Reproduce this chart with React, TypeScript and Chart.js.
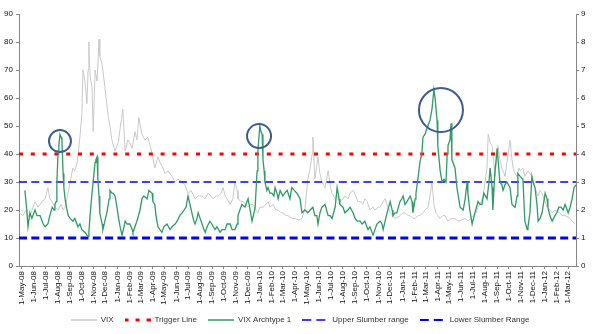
import React, { useEffect, useRef } from 'react';
import { Chart, registerables } from 'chart.js';

Chart.register(...registerables);

// x values are days counted from 1-May-2008
const vixDay = [-7,3,11,16,24,34,42,52,60,67,
  72,78,85,93,101,106,111,119,124,131,
  136,142,149,154,157,162,167,170,172,175,
  180,183,188,193,198,200,206,213,221,226,
  231,239,247,252,259,265,272,277,283,290,
  295,300,308,316,323,329,334,341,349,354,
  362,367,375,385,393,400,411,418,426,434,
  444,452,462,470,477,485,490,498,503,511,
  516,521,526,534,541,546,552,554,562,567,
  575,580,587,592,600,605,610,618,626,631,
  636,644,651,657,664,669,677,682,692,700,
  708,713,718,726,733,739,744,746,751,759,
  764,769,777,785,790,795,803,810,815,823,
  828,836,841,849,856,861,869,874,879,885,
  892,900,905,913,918,926,931,938,944,951,
  956,964,969,977,982,990,995,1002,1008,1015,
  1020,1028,1033,1041,1046,1051,1056,1061,1066,1072,
  1079,1084,1092,1100,1110,1118,1128,1136,1143,1151,
  1156,1164,1169,1177,1182,1187,1192,1195,1200,1205,
  1210,1212,1218,1220,1225,1230,1236,1238,1243,1246,
  1251,1256,1259,1264,1269,1274,1277,1284,1289,1297,
  1302,1307,1315,1323,1328,1333,1341,1346,1353,1359,
  1366,1371,1379,1384,1392,1397,1405,1410,1417];

const vix = [19,18,20,17.6,19,23,21,23,24,28,
  24,23,21,20,22,20,21,26,30,35,
  34,37,46,54,70,66,58,70,80,68,
  64,48,70,66,81,75,72,64,54,50,
  45,41,44,49,56,41,45,44,42,48,
  45,53,47,45,46,43,40,35,39,37,
  35,33,34,32,30,31,30,29,26,27,
  24,25,25,24,26,25,24,25,25,26,
  28,25,24,22,24,30,27,24,23,23,
  22,21,22,22,20,19,21,21,22,23,
  21,22,20,20,19,19,18,18,17,17,
  16.5,16.5,17,21,31,35,40,46,31,39,
  33,30,28,34,29,26,24,25,23,24,
  25,24,26,27,25,23,23,22,24,23,
  20,21,20,21,21,23,24,21,19,18,
  17,17.5,18,19,19,18,18,17,17,18,
  18,19,20,21,25,30,22,19,18,17,
  18,18,16,17,17,16,16.5,17,16,17,
  18,19,21,23,25,30,35,47,44,43,
  36,32,40,43,38,35,33,32,37,40,
  45,38,35,33,32,35,34,35,32,34,
  33,32,28,25,27,26,23,21,20,19,
  20,19.5,19,18,18,17.6,17,16,15];

const archDay = [8,13,16,21,26,34,39,47,55,60,
  67,72,78,83,85,88,90,93,95,98,
  101,103,106,108,111,116,119,124,131,136,
  144,149,154,162,167,170,172,175,180,185,
  188,190,193,195,198,200,206,208,213,218,
  224,226,231,234,239,244,247,252,257,262,
  265,270,277,283,285,290,295,303,308,313,
  321,326,334,336,341,344,349,354,359,364,
  372,380,385,393,398,405,411,416,421,426,
  431,436,441,444,449,452,457,462,467,470,
  475,482,487,495,500,508,513,521,526,534,
  539,546,552,554,559,564,572,577,580,585,
  590,595,598,603,605,610,613,616,618,621,
  623,628,631,636,641,646,649,654,657,662,
  669,674,680,687,692,698,705,713,718,726,
  733,739,746,751,756,759,764,769,777,785,
  790,795,803,808,813,815,823,828,836,841,
  849,854,859,867,872,879,887,892,900,905,
  910,918,923,926,931,936,944,949,951,956,
  961,969,974,977,982,987,995,1000,1002,1008,
  1010,1015,1020,1025,1028,1033,1038,1043,1046,1051,
  1056,1059,1064,1066,1072,1077,1082,1087,1090,1092,
  1097,1100,1102,1110,1115,1123,1131,1136,1141,1143,
  1148,1154,1161,1169,1174,1179,1184,1192,1197,1200,
  1205,1207,1212,1218,1220,1225,1230,1233,1238,1243,
  1251,1256,1264,1269,1271,1277,1284,1289,1295,1297,
  1302,1307,1310,1315,1320,1323,1328,1333,1341,1346,
  1348,1353,1359,1366,1371,1376,1382,1387,1392,1400,
  1405,1410,1415,1420];

const arch = [2.7,2.0,1.4,1.9,1.7,2.0,1.8,1.8,1.5,1.4,
  1.5,1.8,2.1,2.0,2.2,2.3,3.0,4.0,4.3,4.7,
  4.6,4.5,3.3,2.8,2.4,2.0,1.8,1.7,1.6,1.7,
  1.4,1.5,1.3,1.2,1.1,1.05,1.2,1.8,2.6,3.3,
  3.7,3.8,3.9,3.1,2.5,1.9,1.5,1.3,1.6,1.9,
  2.4,2.7,2.6,2.6,2.5,2.1,1.8,1.4,1.1,1.4,
  1.6,1.5,1.5,1.3,1.2,1.4,1.6,2.0,2.4,2.5,
  2.4,2.7,2.6,2.3,2.2,1.8,1.4,1.3,1.2,1.4,
  1.5,1.3,1.4,1.5,1.6,1.8,1.9,2.0,2.1,2.5,
  2.2,1.9,1.6,1.5,1.7,1.9,1.7,1.5,1.3,1.2,
  1.4,1.6,1.5,1.3,1.4,1.2,1.3,1.3,1.5,1.5,
  1.3,1.3,1.5,1.8,2.0,2.2,2.1,2.3,2.4,2.0,
  1.6,1.9,2.1,3.4,4.1,5.0,4.8,4.7,3.8,3.4,
  3.0,2.7,2.8,2.6,2.6,2.5,2.8,2.6,2.4,2.7,
  2.5,2.6,2.7,2.4,2.8,2.7,2.6,2.4,1.9,2.0,
  1.9,2.0,2.1,1.8,1.8,1.5,1.9,2.1,2.2,1.8,
  1.8,1.7,2.1,2.8,2.4,2.2,2.1,1.9,2.0,2.1,
  1.9,1.7,1.6,1.6,1.5,1.6,1.3,1.4,1.1,1.3,
  1.5,1.6,1.5,1.3,1.6,1.9,2.3,2.0,1.8,1.9,
  1.9,2.3,2.4,2.5,2.2,2.3,2.5,2.3,1.9,2.4,
  2.6,3.1,3.7,4.0,4.6,4.7,4.9,5.1,5.2,5.6,
  6.3,6.0,5.2,4.3,3.4,3.0,3.1,3.0,4.0,4.3,
  4.5,5.1,3.8,3.5,2.8,2.1,2.0,2.4,3.0,2.6,
  2.0,1.5,1.9,2.3,2.2,2.2,2.6,2.4,3.0,3.5,
  2.8,2.0,3.3,4.2,4.2,3.0,2.9,2.7,2.9,3.0,
  2.8,2.2,2.1,2.5,3.3,3.2,3.1,1.6,1.3,1.4,
  1.9,3.2,3.0,2.8,2.2,1.6,1.7,1.9,2.6,2.4,
  2.1,1.8,1.6,1.8,1.9,2.1,2.1,2.0,2.2,1.9,
  2.1,2.4,2.8,2.9];

const triggerLevel = 40;
const upperSlumber = 30;
const lowerSlumber = 10;

const seriesNames = ['VIX', 'Trigger Line', 'VIX Archtype 1', 'Upper Slumber range', 'Lower Slumber Range'];
const monthNames = ['Jan', 'Feb', 'Mar', 'Apr', 'May', 'Jun', 'Jul', 'Aug', 'Sep', 'Oct', 'Nov', 'Dec'];
const firstTickMonth = { year: 2008, month: 4 }; // May 2008
const tickMonthCount = 47; // through Mar 2012

// highlighted episodes (day, left-axis level)
const highlightDay = [98, 608, 1074];
const highlightLevel = [44.6, 46.4, 55.7];

const BASE = Date.UTC(2008, 4, 1);
const DAY_MS = 86400000;
const monthTicks = Array.from({ length: tickMonthCount }, (_, i) => {
  const t = Date.UTC(firstTickMonth.year, firstTickMonth.month + i, 1);
  const d = new Date(t);
  const yy = String(d.getUTCFullYear() % 100).padStart(2, '0');
  return { day: Math.round((t - BASE) / DAY_MS), label: `1-${monthNames[d.getUTCMonth()]}-${yy}` };
});
const tickLabel = new Map(monthTicks.map((m) => [m.day, m.label]));

const GREY = '#c9c9c9';
const GREEN = '#339966';
const RED = '#ff0000';
const BLUE = '#0000ff';
const AXIS = '#868686';
const FONT = 'Liberation Sans, Arial, sans-serif';
const CIRCLE_RADII = [11, 12, 22];

function sample(color: string, width: number, dash: number[]) {
  const c = document.createElement('canvas');
  c.width = 26;
  c.height = 8;
  const ctx = c.getContext('2d')!;
  ctx.strokeStyle = color;
  ctx.lineWidth = width;
  ctx.setLineDash(dash);
  ctx.beginPath();
  ctx.moveTo(0, 4);
  ctx.lineTo(26, 4);
  ctx.stroke();
  return c;
}

const circlePlugin = {
  id: 'highlightCircles',
  afterDatasetsDraw(chart: any) {
    const { ctx, scales } = chart;
    ctx.save();
    ctx.strokeStyle = '#3c5c8d';
    ctx.lineWidth = 2;
    highlightDay.forEach((d, i) => {
      ctx.beginPath();
      ctx.arc(scales.x.getPixelForValue(d), scales.y.getPixelForValue(highlightLevel[i]), CIRCLE_RADII[i], 0, Math.PI * 2);
      ctx.stroke();
    });
    ctx.restore();
  },
};

export default function App() {
  const ref = useRef<HTMLCanvasElement>(null);

  useEffect(() => {
    const xMin = Math.min(vixDay[0], archDay[0]);
    const xMax = Math.max(vixDay[vixDay.length - 1], archDay[archDay.length - 1]);
    const span = [xMin, xMax];
    const samples = [
      sample(GREY, 1.5, []),
      sample(RED, 3, [4, 7]),
      sample(GREEN, 1.5, []),
      sample(BLUE, 1.5, [9, 5]),
      sample(BLUE, 2, [9, 5]),
    ];
    const flat = (v: number) => span.map((x) => ({ x, y: v }));

    const chart = new Chart(ref.current!, {
      type: 'line',
      data: {
        datasets: [
          { label: seriesNames[0], data: vixDay.map((x, i) => ({ x, y: vix[i] })), borderColor: GREY, borderWidth: 1, pointRadius: 0, tension: 0, yAxisID: 'y', order: 5 },
          { label: seriesNames[1], data: flat(triggerLevel), borderColor: RED, borderWidth: 3, borderDash: [4, 7.8], pointRadius: 0, yAxisID: 'y', order: 2 },
          { label: seriesNames[2], data: archDay.map((x, i) => ({ x, y: arch[i] })), borderColor: GREEN, borderWidth: 1.3, pointRadius: 0, tension: 0, yAxisID: 'y1', order: 1 },
          { label: seriesNames[3], data: flat(upperSlumber), borderColor: BLUE, borderWidth: 1.5, borderDash: [8, 4.3], pointRadius: 0, yAxisID: 'y', order: 3 },
          { label: seriesNames[4], data: flat(lowerSlumber), borderColor: BLUE, borderWidth: 3, borderDash: [8, 4.3], pointRadius: 0, yAxisID: 'y', order: 4 },
        ] as any,
      },
      options: {
        responsive: false,
        animation: false,
        parsing: true,
        layout: { padding: { top: 14, left: 0, right: 0, bottom: 0 } },
        plugins: {
          tooltip: { enabled: false },
          legend: {
            position: 'bottom',
            labels: {
              usePointStyle: true,
              pointStyleWidth: 26,
              padding: 11,
              color: '#333',
              font: { family: FONT, size: 8 },
              generateLabels: (c: any) =>
                c.data.datasets.map((ds: any, i: number) => ({
                  text: ds.label,
                  pointStyle: samples[i],
                  datasetIndex: i,
                  hidden: false,
                  fontColor: '#333',
                  lineWidth: 0,
                  strokeStyle: 'rgba(0,0,0,0)',
                  fillStyle: 'rgba(0,0,0,0)',
                })),
            },
          },
        },
        scales: {
          x: {
            type: 'linear',
            min: xMin,
            max: xMax,
            afterBuildTicks: (s: any) => {
              s.ticks = monthTicks.map((m) => ({ value: m.day }));
            },
            afterFit: (s: any) => {
              s.height = 39;
            },
            ticks: {
              autoSkip: false,
              minRotation: 90,
              maxRotation: 90,
              padding: 2,
              color: '#111',
              font: { family: FONT, size: 8 },
              callback: (v: any) => tickLabel.get(v) ?? '',
            },
            grid: { drawOnChartArea: false, drawTicks: true, tickLength: 3, color: AXIS },
            border: { display: true, color: AXIS },
          },
          y: {
            type: 'linear',
            position: 'left',
            min: 0,
            max: 90,
            afterFit: (s: any) => {
              s.width = 19;
            },
            ticks: { stepSize: 10, padding: 3, color: '#111', font: { family: FONT, size: 8 } },
            grid: { drawOnChartArea: false, drawTicks: true, tickLength: 3, color: AXIS },
            border: { display: true, color: AXIS },
          },
          y1: {
            type: 'linear',
            position: 'right',
            min: 0,
            max: 9,
            afterFit: (s: any) => {
              s.width = 24;
            },
            ticks: { stepSize: 1, padding: 2, color: '#111', font: { family: FONT, size: 8 } },
            grid: { drawOnChartArea: false, drawTicks: true, tickLength: 3, color: AXIS },
            border: { display: true, color: AXIS },
          },
        },
      } as any,
      plugins: [circlePlugin],
    });
    return () => chart.destroy();
  }, []);

  return (
    <div style={{ position: 'absolute', left: 0, top: 0, width: 600, height: 334, background: '#fff' }}>
      <canvas ref={ref} width={600} height={334} style={{ display: 'block' }} />
    </div>
  );
}
